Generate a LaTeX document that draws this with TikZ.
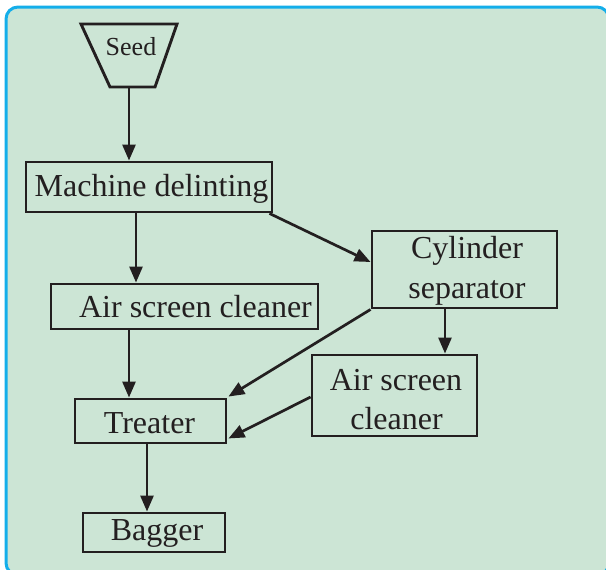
\documentclass[tikz,border=0pt]{standalone}
\usepackage{fontspec}
\setmainfont{Liberation Serif}
\usetikzlibrary{arrows.meta,calc}
\definecolor{panelfill}{HTML}{CCE5D5}
\definecolor{panelline}{HTML}{14AEEA}
\definecolor{ink}{HTML}{231F20}
\begin{document}
\begin{tikzpicture}[x=1pt,y=-1pt,
  box/.style={draw=ink,line width=2.9pt,rectangle,inner sep=0pt},
  lbl/.style={anchor=base,inner sep=0pt,text=ink,font=\fontsize{32}{36}\selectfont},
  arr/.style={draw=ink,line width=2.7pt,-{Triangle[length=16pt,width=13pt]}}]
\useasboundingbox (0,0) rectangle (606,570);
\fill[white] (0,0) rectangle (606,570);
\begin{scope}
\clip (0,0) rectangle (606,570);
\draw[draw=panelline,fill=panelfill,line width=3pt,rounded corners=12pt] (6,7) rectangle (609,575);
\end{scope}
% seed hopper
\draw[ink,line width=2.9pt,line join=miter] (81,24) -- (177,24) -- (155,87) -- (110,87) -- cycle;
\coordinate (seedb) at (129,87);
\node[lbl,font=\fontsize{26}{30}\selectfont] (seed) at (131,55) {Seed};
% boxes
\node[box,minimum width=246pt,minimum height=50pt] (md) at (149,187) {};
\node[box,minimum width=267pt,minimum height=45pt] (asc1) at (184.5,306.5) {};
\node[box,minimum width=185pt,minimum height=77pt] (cyl) at (464.5,269.5) {};
\node[box,minimum width=165pt,minimum height=81pt] (asc2) at (394.5,395.5) {};
\node[box,minimum width=151pt,minimum height=44pt] (tr) at (150.5,421) {};
\node[box,minimum width=142pt,minimum height=39pt] (bg) at (154,532.5) {};
% labels
\node[lbl] (mdt) at (151.5,196) {Machine delinting};
\node[lbl] (asc1t) at (195.5,317) {Air screen cleaner};
\node[lbl] (cylt1) at (467,258) {Cylinder};
\node[lbl] (cylt2) at (467,298) {separator};
\node[lbl] (asc2t1) at (396,390) {Air screen};
\node[lbl] (asc2t2) at (396.5,429) {cleaner};
\node[lbl] (trt) at (149.5,433) {Treater};
\node[lbl] (bgt) at (157,540) {Bagger};
% connectors
\draw[arr] (seedb) -- (seedb |- md.north);
\draw[arr] ([xshift=-13pt]md.south) -- ([xshift=-13pt]md.south |- asc1.north);
\draw[arr] ([xshift=-4pt]md.south east) -- ([yshift=7.5pt]cyl.west);
\draw[arr] ([xshift=-55.5pt]asc1.south) -- ([xshift=-55.5pt]asc1.south |- tr.north);
\draw[arr] (cyl.south west) -- ([xshift=1pt,yshift=1pt]tr.north east);
\draw[arr] ([xshift=-19.5pt]cyl.south) -- ([xshift=-19.5pt]cyl.south |- asc2.north);
\draw[arr] ([yshift=-1.5pt]asc2.west) -- ([xshift=1pt,yshift=6pt]tr.south east);
\draw[arr] ([xshift=-3.5pt]tr.south) -- ([xshift=-3.5pt]tr.south |- bg.north);
\end{tikzpicture}
\end{document}
